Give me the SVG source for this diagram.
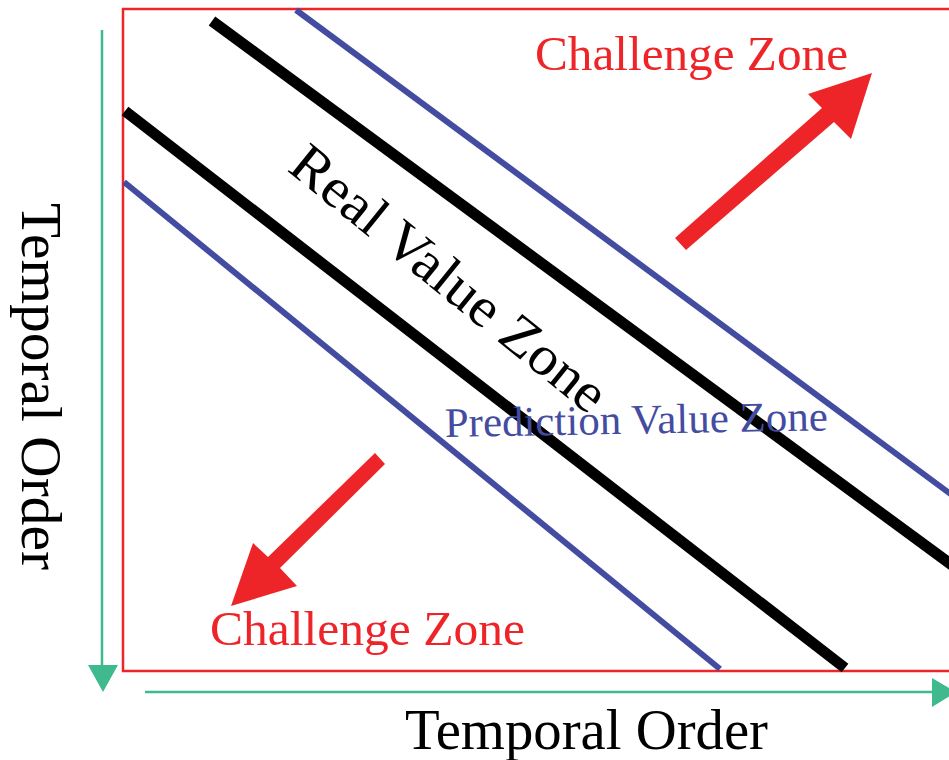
<svg xmlns="http://www.w3.org/2000/svg" width="949" height="760" viewBox="0 0 949 760">
<style>
.t{font-family:"Liberation Serif","Times New Roman",serif}
.red{fill:#ee2528}
.axis{stroke:#3fba8e;stroke-width:2.5;fill:none}
.blk{stroke:#000;stroke-width:11;fill:none}
.blu{stroke:#434ca0;stroke-width:6;fill:none}
</style>
<rect width="949" height="760" fill="#fff"/>
<g id="frame"><rect x="123" y="9" width="840" height="662" fill="none" stroke="#ee2528" stroke-width="2.5"/></g>
<g id="connectors">
<line class="axis" x1="102" y1="30" x2="102" y2="667"/>
<polygon points="88,665 118,665 103,692" fill="#3fba8e"/>
<line class="axis" x1="145" y1="692" x2="934" y2="692"/>
<polygon points="932,678 932,707 956,692" fill="#3fba8e"/>
</g>
<g id="lines">
<line class="blk" x1="212" y1="21" x2="960" y2="571"/>
<line class="blk" x1="125" y1="111" x2="845" y2="668"/>
<line class="blu" x1="296" y1="10" x2="960" y2="501"/>
<line class="blu" x1="124" y1="182" x2="720" y2="669"/>
</g>
<g id="arrow-up"><polygon class="red" points="675,238 686,250 834,122 851,139 872,73 808,94 822,108"/></g>
<g id="arrow-down"><polygon class="red" points="375,453 385,464 280,568 297,586 231,606 253,543 268,557"/></g>
<g id="labels">
<text class="t" x="535" y="70" font-size="49" fill="#ee2528" textLength="313" lengthAdjust="spacingAndGlyphs">Challenge Zone</text>
<text class="t" x="210" y="645" font-size="49" fill="#ee2528" textLength="315" lengthAdjust="spacingAndGlyphs">Challenge Zone</text>
<text class="t" transform="translate(286,170) rotate(39)" font-size="56" fill="#000" textLength="390" lengthAdjust="spacingAndGlyphs">Real Value Zone</text>
<text class="t" transform="translate(445,437) rotate(-1)" font-size="42" fill="#434ca0" textLength="383" lengthAdjust="spacingAndGlyphs">Prediction Value Zone</text>
<text class="t" x="405" y="749" font-size="56" fill="#000" textLength="363" lengthAdjust="spacingAndGlyphs">Temporal Order</text>
<text class="t" transform="translate(22,203) rotate(90)" font-size="56" fill="#000" textLength="367" lengthAdjust="spacingAndGlyphs">Temporal Order</text>
</g>
</svg>
